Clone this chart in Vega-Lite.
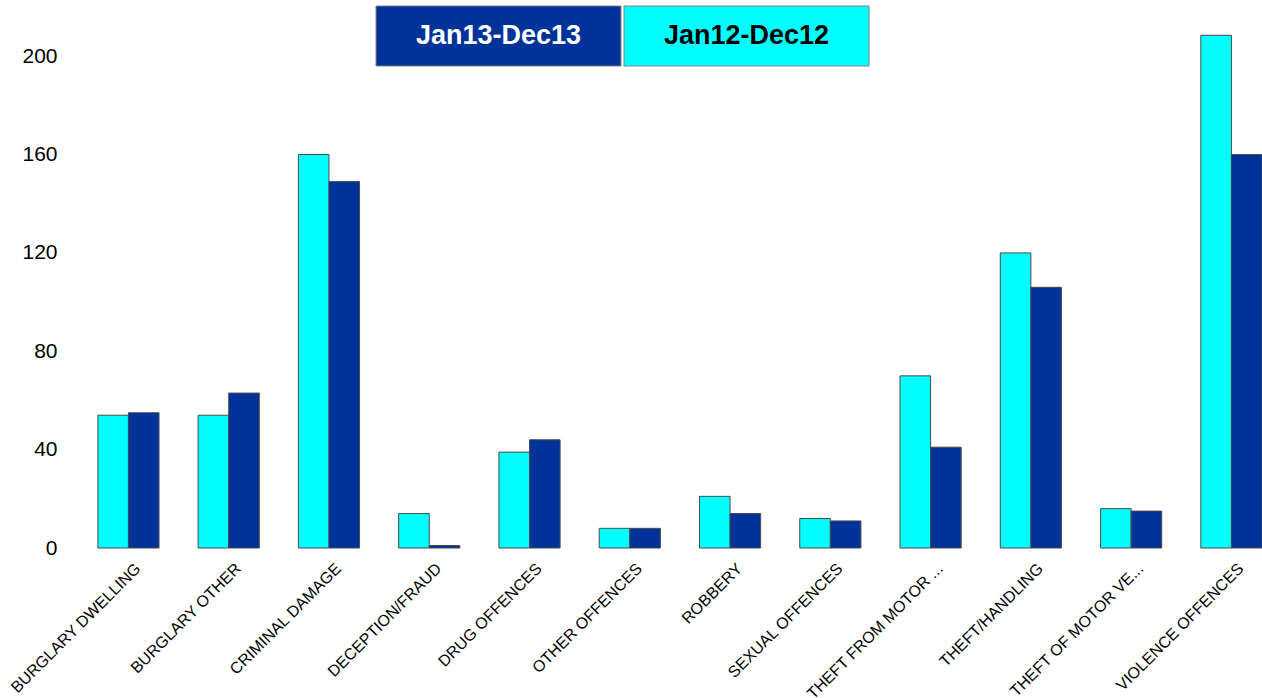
{
  "$schema": "https://vega.github.io/schema/vega-lite/v6.json",
  "width": 1184,
  "height": 541,
  "autosize": {"type": "none"},
  "padding": {"left": 78, "top": 7, "right": 0, "bottom": 150},
  "background": "white",
  "config": {
    "view": {"stroke": null},
    "font": "Liberation Sans"
  },
  "layer": [
    {
      "data": {
        "values": [
          {"category": "BURGLARY DWELLING", "series": "Jan12-Dec12", "value": 54},
          {"category": "BURGLARY DWELLING", "series": "Jan13-Dec13", "value": 55},
          {"category": "BURGLARY OTHER", "series": "Jan12-Dec12", "value": 54},
          {"category": "BURGLARY OTHER", "series": "Jan13-Dec13", "value": 63},
          {"category": "CRIMINAL DAMAGE", "series": "Jan12-Dec12", "value": 160},
          {"category": "CRIMINAL DAMAGE", "series": "Jan13-Dec13", "value": 149},
          {"category": "DECEPTION/FRAUD", "series": "Jan12-Dec12", "value": 14},
          {"category": "DECEPTION/FRAUD", "series": "Jan13-Dec13", "value": 1},
          {"category": "DRUG OFFENCES", "series": "Jan12-Dec12", "value": 39},
          {"category": "DRUG OFFENCES", "series": "Jan13-Dec13", "value": 44},
          {"category": "OTHER OFFENCES", "series": "Jan12-Dec12", "value": 8},
          {"category": "OTHER OFFENCES", "series": "Jan13-Dec13", "value": 8},
          {"category": "ROBBERY", "series": "Jan12-Dec12", "value": 21},
          {"category": "ROBBERY", "series": "Jan13-Dec13", "value": 14},
          {"category": "SEXUAL OFFENCES", "series": "Jan12-Dec12", "value": 12},
          {"category": "SEXUAL OFFENCES", "series": "Jan13-Dec13", "value": 11},
          {"category": "THEFT FROM MOTOR ...", "series": "Jan12-Dec12", "value": 70},
          {"category": "THEFT FROM MOTOR ...", "series": "Jan13-Dec13", "value": 41},
          {"category": "THEFT/HANDLING", "series": "Jan12-Dec12", "value": 120},
          {"category": "THEFT/HANDLING", "series": "Jan13-Dec13", "value": 106},
          {"category": "THEFT OF MOTOR VE...", "series": "Jan12-Dec12", "value": 16},
          {"category": "THEFT OF MOTOR VE...", "series": "Jan13-Dec13", "value": 15},
          {"category": "VIOLENCE OFFENCES", "series": "Jan12-Dec12", "value": 208.5},
          {"category": "VIOLENCE OFFENCES", "series": "Jan13-Dec13", "value": 160}
        ]
      },
      "mark": {"type": "bar", "stroke": "#4a4a4a", "strokeWidth": 1},
      "encoding": {
        "x": {
          "field": "category",
          "type": "nominal",
          "sort": null,
          "scale": {"paddingInner": 0.39, "paddingOuter": 0.099, "align": 1},
          "axis": {
            "title": null,
            "domain": false,
            "ticks": false,
            "labelAngle": -45,
            "labelAlign": "right",
            "labelBaseline": "top",
            "labelFontSize": 16,
            "labelColor": "#000000",
            "labelPadding": 12,
            "labelOffset": 4,
            "labelOverlap": false,
            "labelBound": false,
            "labelLimit": 300
          }
        },
        "xOffset": {
          "field": "series",
          "type": "nominal",
          "scale": {"domain": ["Jan12-Dec12", "Jan13-Dec13"], "paddingInner": 0, "paddingOuter": 0}
        },
        "y": {
          "field": "value",
          "type": "quantitative",
          "scale": {"domain": [0, 220], "nice": false, "zero": true},
          "axis": {
            "title": null,
            "domain": false,
            "ticks": false,
            "grid": false,
            "values": [0, 40, 80, 120, 160, 200],
            "labelFontSize": 21,
            "labelColor": "#000000",
            "labelPadding": 21
          }
        },
        "color": {
          "field": "series",
          "type": "nominal",
          "scale": {"domain": ["Jan13-Dec13", "Jan12-Dec12"], "range": ["#003399", "#00FFFF"]},
          "legend": null
        }
      }
    },
    {
      "data": {
        "values": [
          {"series": "Jan13-Dec13"},
          {"series": "Jan12-Dec12"}
        ]
      },
      "encoding": {
        "x": {
          "field": "series",
          "type": "nominal",
          "sort": null,
          "scale": {"domain": ["Jan13-Dec13", "Jan12-Dec12"], "range": [298, 791], "paddingInner": 0.0121, "paddingOuter": 0},
          "axis": null
        },
        "y": {
          "datum": "legend",
          "type": "nominal",
          "scale": {"range": [-1, 59], "paddingInner": 0, "paddingOuter": 0},
          "axis": null
        }
      },
      "layer": [
        {
          "mark": {"type": "rect", "stroke": "#808080", "strokeWidth": 1},
          "encoding": {
            "color": {"field": "series", "type": "nominal", "legend": null}
          }
        },
        {
          "mark": {"type": "text", "fontSize": 27, "fontWeight": "bold", "align": "center", "baseline": "middle", "font": "Liberation Sans"},
          "encoding": {
            "text": {"field": "series", "type": "nominal"},
            "color": {
              "condition": {"test": "datum.series === 'Jan13-Dec13'", "value": "#ffffff"},
              "value": "#000000"
            }
          }
        }
      ]
    }
  ],
  "resolve": {"scale": {"x": "independent", "y": "independent"}}
}
